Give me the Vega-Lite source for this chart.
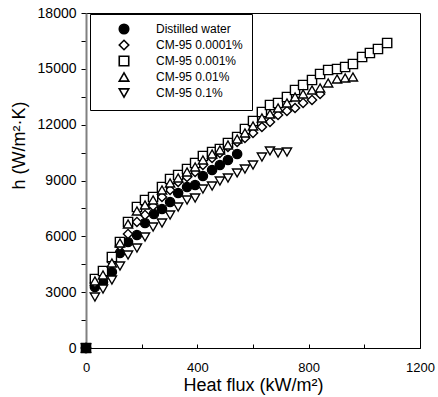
{
  "$schema": "https://vega.github.io/schema/vega-lite/v6.json",
  "width": 334,
  "height": 335,
  "autosize": "none",
  "padding": {"left": 86, "top": 13, "right": 18, "bottom": 49},
  "config": {
    "font": "Liberation Sans",
    "view": {"stroke": "#000", "strokeWidth": 1}
  },
  "data": {
    "values": [
      {"s": "Distilled water", "q": 32, "h": 3278},
      {"s": "Distilled water", "q": 61, "h": 3546},
      {"s": "Distilled water", "q": 93, "h": 4084},
      {"s": "Distilled water", "q": 122, "h": 5105},
      {"s": "Distilled water", "q": 151, "h": 5696},
      {"s": "Distilled water", "q": 183, "h": 6072},
      {"s": "Distilled water", "q": 212, "h": 6717},
      {"s": "Distilled water", "q": 244, "h": 7200},
      {"s": "Distilled water", "q": 273, "h": 7469},
      {"s": "Distilled water", "q": 302, "h": 7845},
      {"s": "Distilled water", "q": 331, "h": 8329},
      {"s": "Distilled water", "q": 363, "h": 8651},
      {"s": "Distilled water", "q": 392, "h": 8759},
      {"s": "Distilled water", "q": 420, "h": 9242},
      {"s": "Distilled water", "q": 453, "h": 9565},
      {"s": "Distilled water", "q": 481, "h": 9833},
      {"s": "Distilled water", "q": 510, "h": 10102},
      {"s": "Distilled water", "q": 543, "h": 10425},
      {"s": "CM-95 0.0001%", "q": 32, "h": 3493},
      {"s": "CM-95 0.0001%", "q": 61, "h": 3869},
      {"s": "CM-95 0.0001%", "q": 93, "h": 4621},
      {"s": "CM-95 0.0001%", "q": 122, "h": 5481},
      {"s": "CM-95 0.0001%", "q": 151, "h": 6126},
      {"s": "CM-95 0.0001%", "q": 183, "h": 6771},
      {"s": "CM-95 0.0001%", "q": 212, "h": 7147},
      {"s": "CM-95 0.0001%", "q": 241, "h": 7630},
      {"s": "CM-95 0.0001%", "q": 273, "h": 8114},
      {"s": "CM-95 0.0001%", "q": 302, "h": 8490},
      {"s": "CM-95 0.0001%", "q": 331, "h": 8920},
      {"s": "CM-95 0.0001%", "q": 363, "h": 9189},
      {"s": "CM-95 0.0001%", "q": 392, "h": 9457},
      {"s": "CM-95 0.0001%", "q": 420, "h": 9833},
      {"s": "CM-95 0.0001%", "q": 453, "h": 10210},
      {"s": "CM-95 0.0001%", "q": 481, "h": 10478},
      {"s": "CM-95 0.0001%", "q": 510, "h": 10801},
      {"s": "CM-95 0.0001%", "q": 543, "h": 11069},
      {"s": "CM-95 0.0001%", "q": 571, "h": 11284},
      {"s": "CM-95 0.0001%", "q": 600, "h": 11553},
      {"s": "CM-95 0.0001%", "q": 632, "h": 11875},
      {"s": "CM-95 0.0001%", "q": 661, "h": 12144},
      {"s": "CM-95 0.0001%", "q": 690, "h": 12520},
      {"s": "CM-95 0.0001%", "q": 722, "h": 12735},
      {"s": "CM-95 0.0001%", "q": 751, "h": 12896},
      {"s": "CM-95 0.0001%", "q": 780, "h": 13165},
      {"s": "CM-95 0.0001%", "q": 812, "h": 13326},
      {"s": "CM-95 0.0001%", "q": 841, "h": 13649},
      {"s": "CM-95 0.001%", "q": 32, "h": 3708},
      {"s": "CM-95 0.001%", "q": 61, "h": 4138},
      {"s": "CM-95 0.001%", "q": 93, "h": 4890},
      {"s": "CM-95 0.001%", "q": 122, "h": 5696},
      {"s": "CM-95 0.001%", "q": 151, "h": 6771},
      {"s": "CM-95 0.001%", "q": 183, "h": 7577},
      {"s": "CM-95 0.001%", "q": 212, "h": 7953},
      {"s": "CM-95 0.001%", "q": 241, "h": 8114},
      {"s": "CM-95 0.001%", "q": 273, "h": 8651},
      {"s": "CM-95 0.001%", "q": 302, "h": 9081},
      {"s": "CM-95 0.001%", "q": 331, "h": 9296},
      {"s": "CM-95 0.001%", "q": 363, "h": 9618},
      {"s": "CM-95 0.001%", "q": 392, "h": 9941},
      {"s": "CM-95 0.001%", "q": 420, "h": 10317},
      {"s": "CM-95 0.001%", "q": 453, "h": 10532},
      {"s": "CM-95 0.001%", "q": 481, "h": 10693},
      {"s": "CM-95 0.001%", "q": 510, "h": 11015},
      {"s": "CM-95 0.001%", "q": 543, "h": 11338},
      {"s": "CM-95 0.001%", "q": 571, "h": 11768},
      {"s": "CM-95 0.001%", "q": 600, "h": 12198},
      {"s": "CM-95 0.001%", "q": 632, "h": 12681},
      {"s": "CM-95 0.001%", "q": 661, "h": 13057},
      {"s": "CM-95 0.001%", "q": 690, "h": 13165},
      {"s": "CM-95 0.001%", "q": 722, "h": 13487},
      {"s": "CM-95 0.001%", "q": 751, "h": 13863},
      {"s": "CM-95 0.001%", "q": 780, "h": 14132},
      {"s": "CM-95 0.001%", "q": 812, "h": 14401},
      {"s": "CM-95 0.001%", "q": 841, "h": 14723},
      {"s": "CM-95 0.001%", "q": 870, "h": 14938},
      {"s": "CM-95 0.001%", "q": 902, "h": 14992},
      {"s": "CM-95 0.001%", "q": 931, "h": 15099},
      {"s": "CM-95 0.001%", "q": 959, "h": 15261},
      {"s": "CM-95 0.001%", "q": 992, "h": 15637},
      {"s": "CM-95 0.001%", "q": 1020, "h": 15852},
      {"s": "CM-95 0.001%", "q": 1049, "h": 16067},
      {"s": "CM-95 0.001%", "q": 1082, "h": 16389},
      {"s": "CM-95 0.01%", "q": 32, "h": 3600},
      {"s": "CM-95 0.01%", "q": 61, "h": 3923},
      {"s": "CM-95 0.01%", "q": 93, "h": 4567},
      {"s": "CM-95 0.01%", "q": 122, "h": 5642},
      {"s": "CM-95 0.01%", "q": 151, "h": 6663},
      {"s": "CM-95 0.01%", "q": 183, "h": 7362},
      {"s": "CM-95 0.01%", "q": 212, "h": 7684},
      {"s": "CM-95 0.01%", "q": 241, "h": 7953},
      {"s": "CM-95 0.01%", "q": 273, "h": 8490},
      {"s": "CM-95 0.01%", "q": 302, "h": 8866},
      {"s": "CM-95 0.01%", "q": 331, "h": 9135},
      {"s": "CM-95 0.01%", "q": 363, "h": 9457},
      {"s": "CM-95 0.01%", "q": 392, "h": 9726},
      {"s": "CM-95 0.01%", "q": 420, "h": 10102},
      {"s": "CM-95 0.01%", "q": 453, "h": 10425},
      {"s": "CM-95 0.01%", "q": 481, "h": 10640},
      {"s": "CM-95 0.01%", "q": 510, "h": 10908},
      {"s": "CM-95 0.01%", "q": 543, "h": 11230},
      {"s": "CM-95 0.01%", "q": 571, "h": 11553},
      {"s": "CM-95 0.01%", "q": 600, "h": 11929},
      {"s": "CM-95 0.01%", "q": 632, "h": 12359},
      {"s": "CM-95 0.01%", "q": 661, "h": 12574},
      {"s": "CM-95 0.01%", "q": 690, "h": 12896},
      {"s": "CM-95 0.01%", "q": 722, "h": 13165},
      {"s": "CM-95 0.01%", "q": 751, "h": 13487},
      {"s": "CM-95 0.01%", "q": 780, "h": 13649},
      {"s": "CM-95 0.01%", "q": 812, "h": 13864},
      {"s": "CM-95 0.01%", "q": 841, "h": 13971},
      {"s": "CM-95 0.01%", "q": 870, "h": 14240},
      {"s": "CM-95 0.01%", "q": 902, "h": 14455},
      {"s": "CM-95 0.01%", "q": 931, "h": 14508},
      {"s": "CM-95 0.01%", "q": 959, "h": 14562},
      {"s": "CM-95 0.1%", "q": 32, "h": 2740},
      {"s": "CM-95 0.1%", "q": 61, "h": 3170},
      {"s": "CM-95 0.1%", "q": 93, "h": 3654},
      {"s": "CM-95 0.1%", "q": 122, "h": 4406},
      {"s": "CM-95 0.1%", "q": 151, "h": 4997},
      {"s": "CM-95 0.1%", "q": 183, "h": 5373},
      {"s": "CM-95 0.1%", "q": 212, "h": 5965},
      {"s": "CM-95 0.1%", "q": 241, "h": 6502},
      {"s": "CM-95 0.1%", "q": 273, "h": 6717},
      {"s": "CM-95 0.1%", "q": 302, "h": 7147},
      {"s": "CM-95 0.1%", "q": 331, "h": 7577},
      {"s": "CM-95 0.1%", "q": 363, "h": 7953},
      {"s": "CM-95 0.1%", "q": 392, "h": 8060},
      {"s": "CM-95 0.1%", "q": 420, "h": 8544},
      {"s": "CM-95 0.1%", "q": 453, "h": 8705},
      {"s": "CM-95 0.1%", "q": 481, "h": 8974},
      {"s": "CM-95 0.1%", "q": 510, "h": 9135},
      {"s": "CM-95 0.1%", "q": 543, "h": 9404},
      {"s": "CM-95 0.1%", "q": 571, "h": 9618},
      {"s": "CM-95 0.1%", "q": 600, "h": 9833},
      {"s": "CM-95 0.1%", "q": 632, "h": 10263},
      {"s": "CM-95 0.1%", "q": 661, "h": 10586},
      {"s": "CM-95 0.1%", "q": 690, "h": 10478},
      {"s": "CM-95 0.1%", "q": 722, "h": 10532},
      {"s": "CM-95 0.0001%", "q": 0, "h": 0},
      {"s": "CM-95 0.001%", "q": 0, "h": 0},
      {"s": "CM-95 0.01%", "q": 0, "h": 0},
      {"s": "CM-95 0.1%", "q": 0, "h": 0},
      {"s": "Distilled water", "q": 0, "h": 0}
    ]
  },
  "mark": {"type": "point", "filled": true, "size": 85, "strokeWidth": 1.4, "opacity": 1},
  "encoding": {
    "x": {
      "field": "q", "type": "quantitative",
      "scale": {"domain": [0, 1200], "nice": false, "zero": false},
      "axis": {
        "title": "Heat flux (kW/m²)",
        "values": [0, 200, 400, 600, 800, 1000, 1200],
        "format": "d",
        "labelExpr": "datum.value % 400 == 0 ? datum.label : ''",
        "labelOverlap": false,
        "labelFlush": false,
        "grid": false,
        "tickSize": -4,
        "tickColor": "#000",
        "domainColor": "#000",
        "labelPadding": 17,
        "labelFontSize": 13,
        "labelColor": "#000",
        "titleFontSize": 18,
        "titleFontWeight": "normal",
        "titleColor": "#000",
        "titlePadding": 2
      }
    },
    "y": {
      "field": "h", "type": "quantitative",
      "scale": {"domain": [0, 18000], "nice": false, "zero": false},
      "axis": {
        "title": "h (W/m²·K)",
        "values": [0, 1500, 3000, 4500, 6000, 7500, 9000, 10500, 12000, 13500, 15000, 16500, 18000],
        "format": "d",
        "labelExpr": "datum.value % 3000 == 0 ? datum.label : ''",
        "labelOverlap": false,
        "labelFlush": false,
        "grid": false,
        "tickSize": 5,
        "tickColor": "#000",
        "domainColor": "#808080",
        "domainWidth": 2,
        "labelPadding": 5,
        "labelFontSize": 14,
        "labelColor": "#000",
        "titleFontSize": 18,
        "titleFontWeight": "normal",
        "titleColor": "#000",
        "titleX": -62,
        "titleY": 132,
        "titleBaseline": "alphabetic"
      }
    },
    "shape": {
      "field": "s", "type": "nominal", "title": null,
      "scale": {
        "domain": ["Distilled water", "CM-95 0.0001%", "CM-95 0.001%", "CM-95 0.01%", "CM-95 0.1%"],
        "range": ["circle", "diamond", "square", "triangle-up", "triangle-down"]
      },
      "legend": {
        "orient": "none", "legendX": 4, "legendY": 1,
        "strokeColor": "#000", "fillColor": "#fff",
        "padding": 9, "symbolOffset": 19, "labelOffset": 26, "rowPadding": 0,
        "labelFont": "Liberation Sans", "labelFontSize": 12, "labelColor": "#000",
        "symbolSize": 90, "symbolStrokeWidth": 1.6
      }
    },
    "fill": {
      "field": "s", "type": "nominal", "title": null,
      "scale": {
        "domain": ["Distilled water", "CM-95 0.0001%", "CM-95 0.001%", "CM-95 0.01%", "CM-95 0.1%"],
        "range": ["#000", "#fff", "#fff", "#fff", "#fff"]
      }
    },
    "stroke": {
      "field": "s", "type": "nominal", "title": null,
      "scale": {
        "domain": ["Distilled water", "CM-95 0.0001%", "CM-95 0.001%", "CM-95 0.01%", "CM-95 0.1%"],
        "range": ["#000", "#000", "#000", "#000", "#000"]
      }
    }
  }
}
